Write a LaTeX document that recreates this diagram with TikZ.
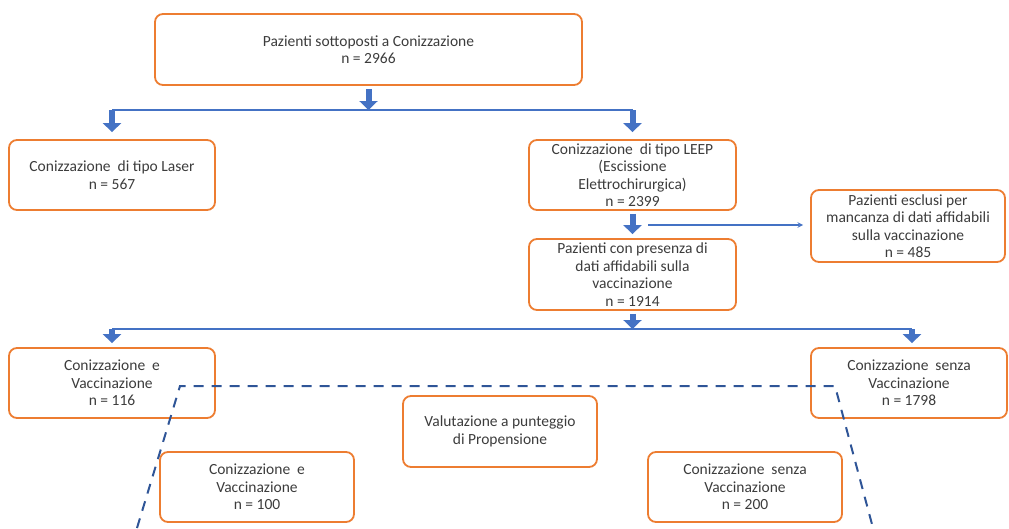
\documentclass[tikz,border=0pt]{standalone}
\usepackage{fontspec}
\setmainfont{Carlito}
\usetikzlibrary{arrows.meta}
\definecolor{boxorange}{RGB}{237,125,49}
\definecolor{arrowblue}{RGB}{68,114,196}
\definecolor{dashblue}{RGB}{47,85,151}
\definecolor{textgray}{RGB}{60,60,60}
\tikzset{>=stealth,
  flowbox/.style={draw=boxorange, line width=1.8pt, rounded corners=8pt, align=center,
    text=textgray, font=\fontsize{15.5}{17.5}\selectfont, inner sep=1pt},
  blockarrow/.style={draw=arrowblue, line width=6pt, -{Triangle[length=9pt,width=18pt]}},
  busline/.style={draw=arrowblue, line width=2.2pt},
  thinarrow/.style={draw=arrowblue, line width=1.5pt, ->},
  matchline/.style={draw=dashblue, line width=2pt, dash pattern=on 10pt off 8pt}}

\begin{document}
\begin{tikzpicture}[x=1pt,y=-1pt]
  \useasboundingbox (0,0) rectangle (1009,528);
  \node[flowbox, minimum width=427pt, minimum height=71pt] (top) at (368.5,49.5)
    {Pazienti sottoposti a Conizzazione\\n = 2966};
  \node[flowbox, minimum width=206pt, minimum height=70pt] (laser) at (112,175)
    {Conizzazione \ di tipo Laser\\n = 567};
  \node[flowbox, minimum width=207pt, minimum height=70pt] (leep) at (632.5,175)
    {Conizzazione \ di tipo LEEP\\(Escissione\\Elettrochirurgica)\\n = 2399};
  \node[flowbox, minimum width=194pt, minimum height=72pt] (excl) at (908,226)
    {Pazienti esclusi per\\mancanza di dati affidabili\\sulla vaccinazione\\n = 485};
  \node[flowbox, minimum width=207pt, minimum height=71pt] (pres) at (632.5,274.5)
    {Pazienti con presenza di\\dati affidabili sulla\\vaccinazione\\n = 1914};
  \node[flowbox, minimum width=206pt, minimum height=70pt] (cev) at (112,383)
    {Conizzazione \ e\\Vaccinazione\\n = 116};
  \node[flowbox, minimum width=196pt, minimum height=70pt] (csv) at (909,383)
    {Conizzazione \ senza\\Vaccinazione\\n = 1798};
  \node[flowbox, minimum width=194pt, minimum height=71pt] (valut) at (500,431.5)
    {Valutazione a punteggio\\di Propensione};
  \node[flowbox, minimum width=194pt, minimum height=70pt] (cev2) at (257,487)
    {Conizzazione \ e\\Vaccinazione\\n = 100};
  \node[flowbox, minimum width=194pt, minimum height=70pt] (csv2) at (745,487)
    {Conizzazione \ senza\\Vaccinazione\\n = 200};

  \coordinate (bus1) at (0,110);
  \coordinate (bus2) at (0,329);
  \coordinate (split) at (648,225);

  \draw[blockarrow] ([yshift=-3pt]top.south) -- (top.south |- bus1);
  \draw[busline] (laser.north |- bus1) -- (leep.north |- bus1);
  \draw[blockarrow] (laser.north |- bus1) -- ([yshift=7pt]laser.north);
  \draw[blockarrow] (leep.north |- bus1) -- ([yshift=7pt]leep.north);
  \draw[blockarrow] ([yshift=-3pt]leep.south) -- ([yshift=4pt]pres.north);
  \draw[thinarrow] (split) -- ([xshift=-7pt]excl.west |- split);
  \draw[blockarrow] ([yshift=-3pt]pres.south) -- (pres.south |- bus2);
  \draw[busline] (cev.north |- bus2) -- ([xshift=3pt]csv.north |- bus2);
  \draw[blockarrow] (cev.north |- bus2) -- ([yshift=4pt]cev.north);
  \draw[blockarrow] ([xshift=3pt]csv.north |- bus2) -- ([xshift=3pt,yshift=4pt]csv.north);

  \draw[matchline] (137,528) -- (180,386) -- (835,386) -- (873,528);
\end{tikzpicture}
\end{document}
